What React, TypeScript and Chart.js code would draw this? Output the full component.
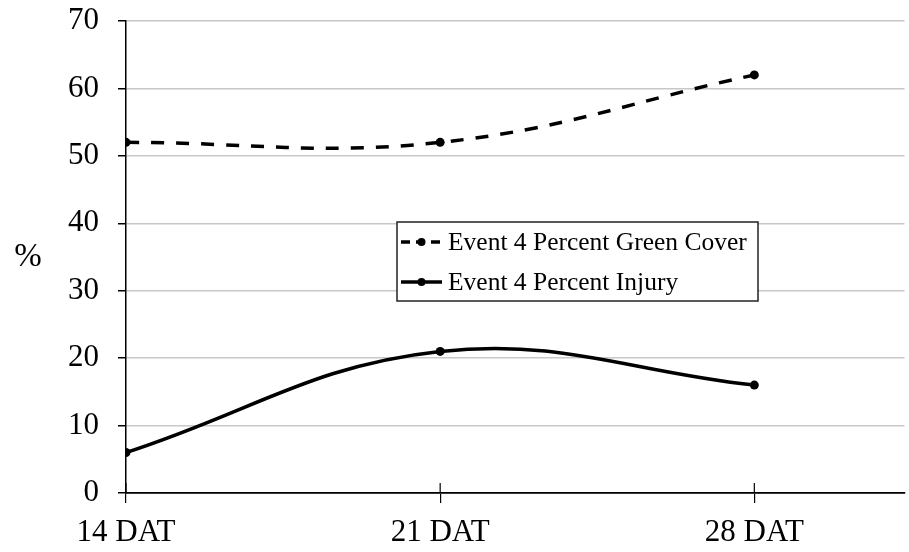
import React, { useEffect, useRef } from "react";
import { Chart, registerables } from "chart.js";

Chart.register(...registerables);

const categories = ["14 DAT", "21 DAT", "28 DAT"];
const greenCover = [52, 52, 62];
const injury = [6, 21, 16];
const seriesNames = ["Event 4 Percent Green Cover", "Event 4 Percent Injury"];
const yAxisTitle = "%";
const yMin = 0;
const yMax = 70;
const yStep = 10;

const FONT = '"Liberation Serif", "Times New Roman", serif';

const extrasPlugin = {
  id: "extras",
  afterDraw(chart: any) {
    const ctx = chart.ctx;
    const area = chart.chartArea;
    const xs = chart.scales.x;
    ctx.save();
    // y-axis title, unrotated
    ctx.fillStyle = "#000";
    ctx.font = `33px ${FONT}`;
    ctx.textAlign = "center";
    ctx.textBaseline = "middle";
    ctx.fillText(yAxisTitle, 28, (area.top + area.bottom) / 2);

    // crossing tick marks on the x axis (upper half)
    ctx.strokeStyle = "#000";
    ctx.lineWidth = 1.2;
    categories.forEach((_, i) => {
      const px = xs.getPixelForValue(i);
      ctx.beginPath();
      ctx.moveTo(px, area.bottom - 10);
      ctx.lineTo(px, area.bottom);
      ctx.stroke();
    });

    // legend box
    const bx = 397, by = 222, bw = 361, bh = 79;
    ctx.fillStyle = "#fff";
    ctx.fillRect(bx, by, bw, bh);
    ctx.strokeStyle = "#222";
    ctx.lineWidth = 1.5;
    ctx.strokeRect(bx, by, bw, bh);

    const rows = [242, 282];
    chart.data.datasets.forEach((ds: any, i: number) => {
      const y = rows[i];
      ctx.strokeStyle = "#000";
      ctx.lineWidth = 3.5;
      ctx.setLineDash(ds.borderDash && ds.borderDash.length ? [9, 6] : []);
      ctx.beginPath();
      ctx.moveTo(401, y);
      ctx.lineTo(442, y);
      ctx.stroke();
      ctx.setLineDash([]);
      ctx.fillStyle = "#000";
      ctx.beginPath();
      ctx.arc(421.5, y, 4, 0, Math.PI * 2);
      ctx.fill();
      ctx.font = `25.5px ${FONT}`;
      ctx.textAlign = "left";
      ctx.textBaseline = "middle";
      ctx.fillText(ds.label, 448, y + 1);
    });
    ctx.restore();
  },
};

export default function App() {
  const ref = useRef<HTMLCanvasElement | null>(null);

  useEffect(() => {
    if (!ref.current) return;
    const chart = new Chart(ref.current, {
      type: "line",
      data: {
        datasets: [
          {
            label: seriesNames[0],
            data: greenCover.map((v, i) => ({ x: i, y: v })),
            borderColor: "#000",
            backgroundColor: "#000",
            borderWidth: 3.5,
            borderDash: [13, 12],
            tension: 0.4,
            pointRadius: 4.5,
            pointBackgroundColor: "#000",
            pointBorderWidth: 0,
            fill: false,
          },
          {
            label: seriesNames[1],
            data: injury.map((v, i) => ({ x: i, y: v })),
            borderColor: "#000",
            backgroundColor: "#000",
            borderWidth: 3.5,
            tension: 0.4,
            pointRadius: 4.5,
            pointBackgroundColor: "#000",
            pointBorderWidth: 0,
            fill: false,
          },
        ],
      },
      options: {
        responsive: false,
        animation: false,
        devicePixelRatio: 1,
        layout: { padding: { top: 21, left: 0, right: 0, bottom: 0 } },
        plugins: {
          legend: { display: false },
          tooltip: { enabled: false },
          title: { display: false },
        },
        scales: {
          x: {
            type: "linear",
            min: 0,
            max: 2.478,
            grid: {
              display: true,
              drawOnChartArea: false,
              drawTicks: true,
              tickLength: 10,
              color: "#000",
              lineWidth: 1.2,
            },
            border: { display: true, color: "#000", width: 1.8 },
            ticks: {
              stepSize: 1,
              includeBounds: false,
              autoSkip: false,
              maxRotation: 0,
              padding: 11,
              color: "#000",
              font: { family: FONT, size: 31 },
              callback: (v: any) => categories[v as number] ?? "",
            },
            afterFit: (s: any) => {
              s.height = 59;
              s.paddingLeft = 0;
              s.paddingRight = 0;
            },
          },
          y: {
            min: yMin,
            max: yMax,
            grid: {
              color: "#c8c8c8",
              lineWidth: 1.5,
              tickColor: "#000",
              tickLength: 8,
            },
            border: { display: true, color: "#000", width: 1.5 },
            ticks: {
              stepSize: yStep,
              padding: 19,
              color: "#000",
              font: { family: FONT, size: 31 },
            },
            afterFit: (s: any) => {
              s.width = 126;
              s.paddingTop = 0;
              s.paddingBottom = 0;
            },
          },
        },
      },
      plugins: [extrasPlugin],
    });
    return () => chart.destroy();
  }, []);

  return (
    <div style={{ position: "absolute", left: 0, top: 0, width: 909, height: 552, background: "#fff" }}>
      <canvas ref={ref} width={909} height={552} />
    </div>
  );
}
